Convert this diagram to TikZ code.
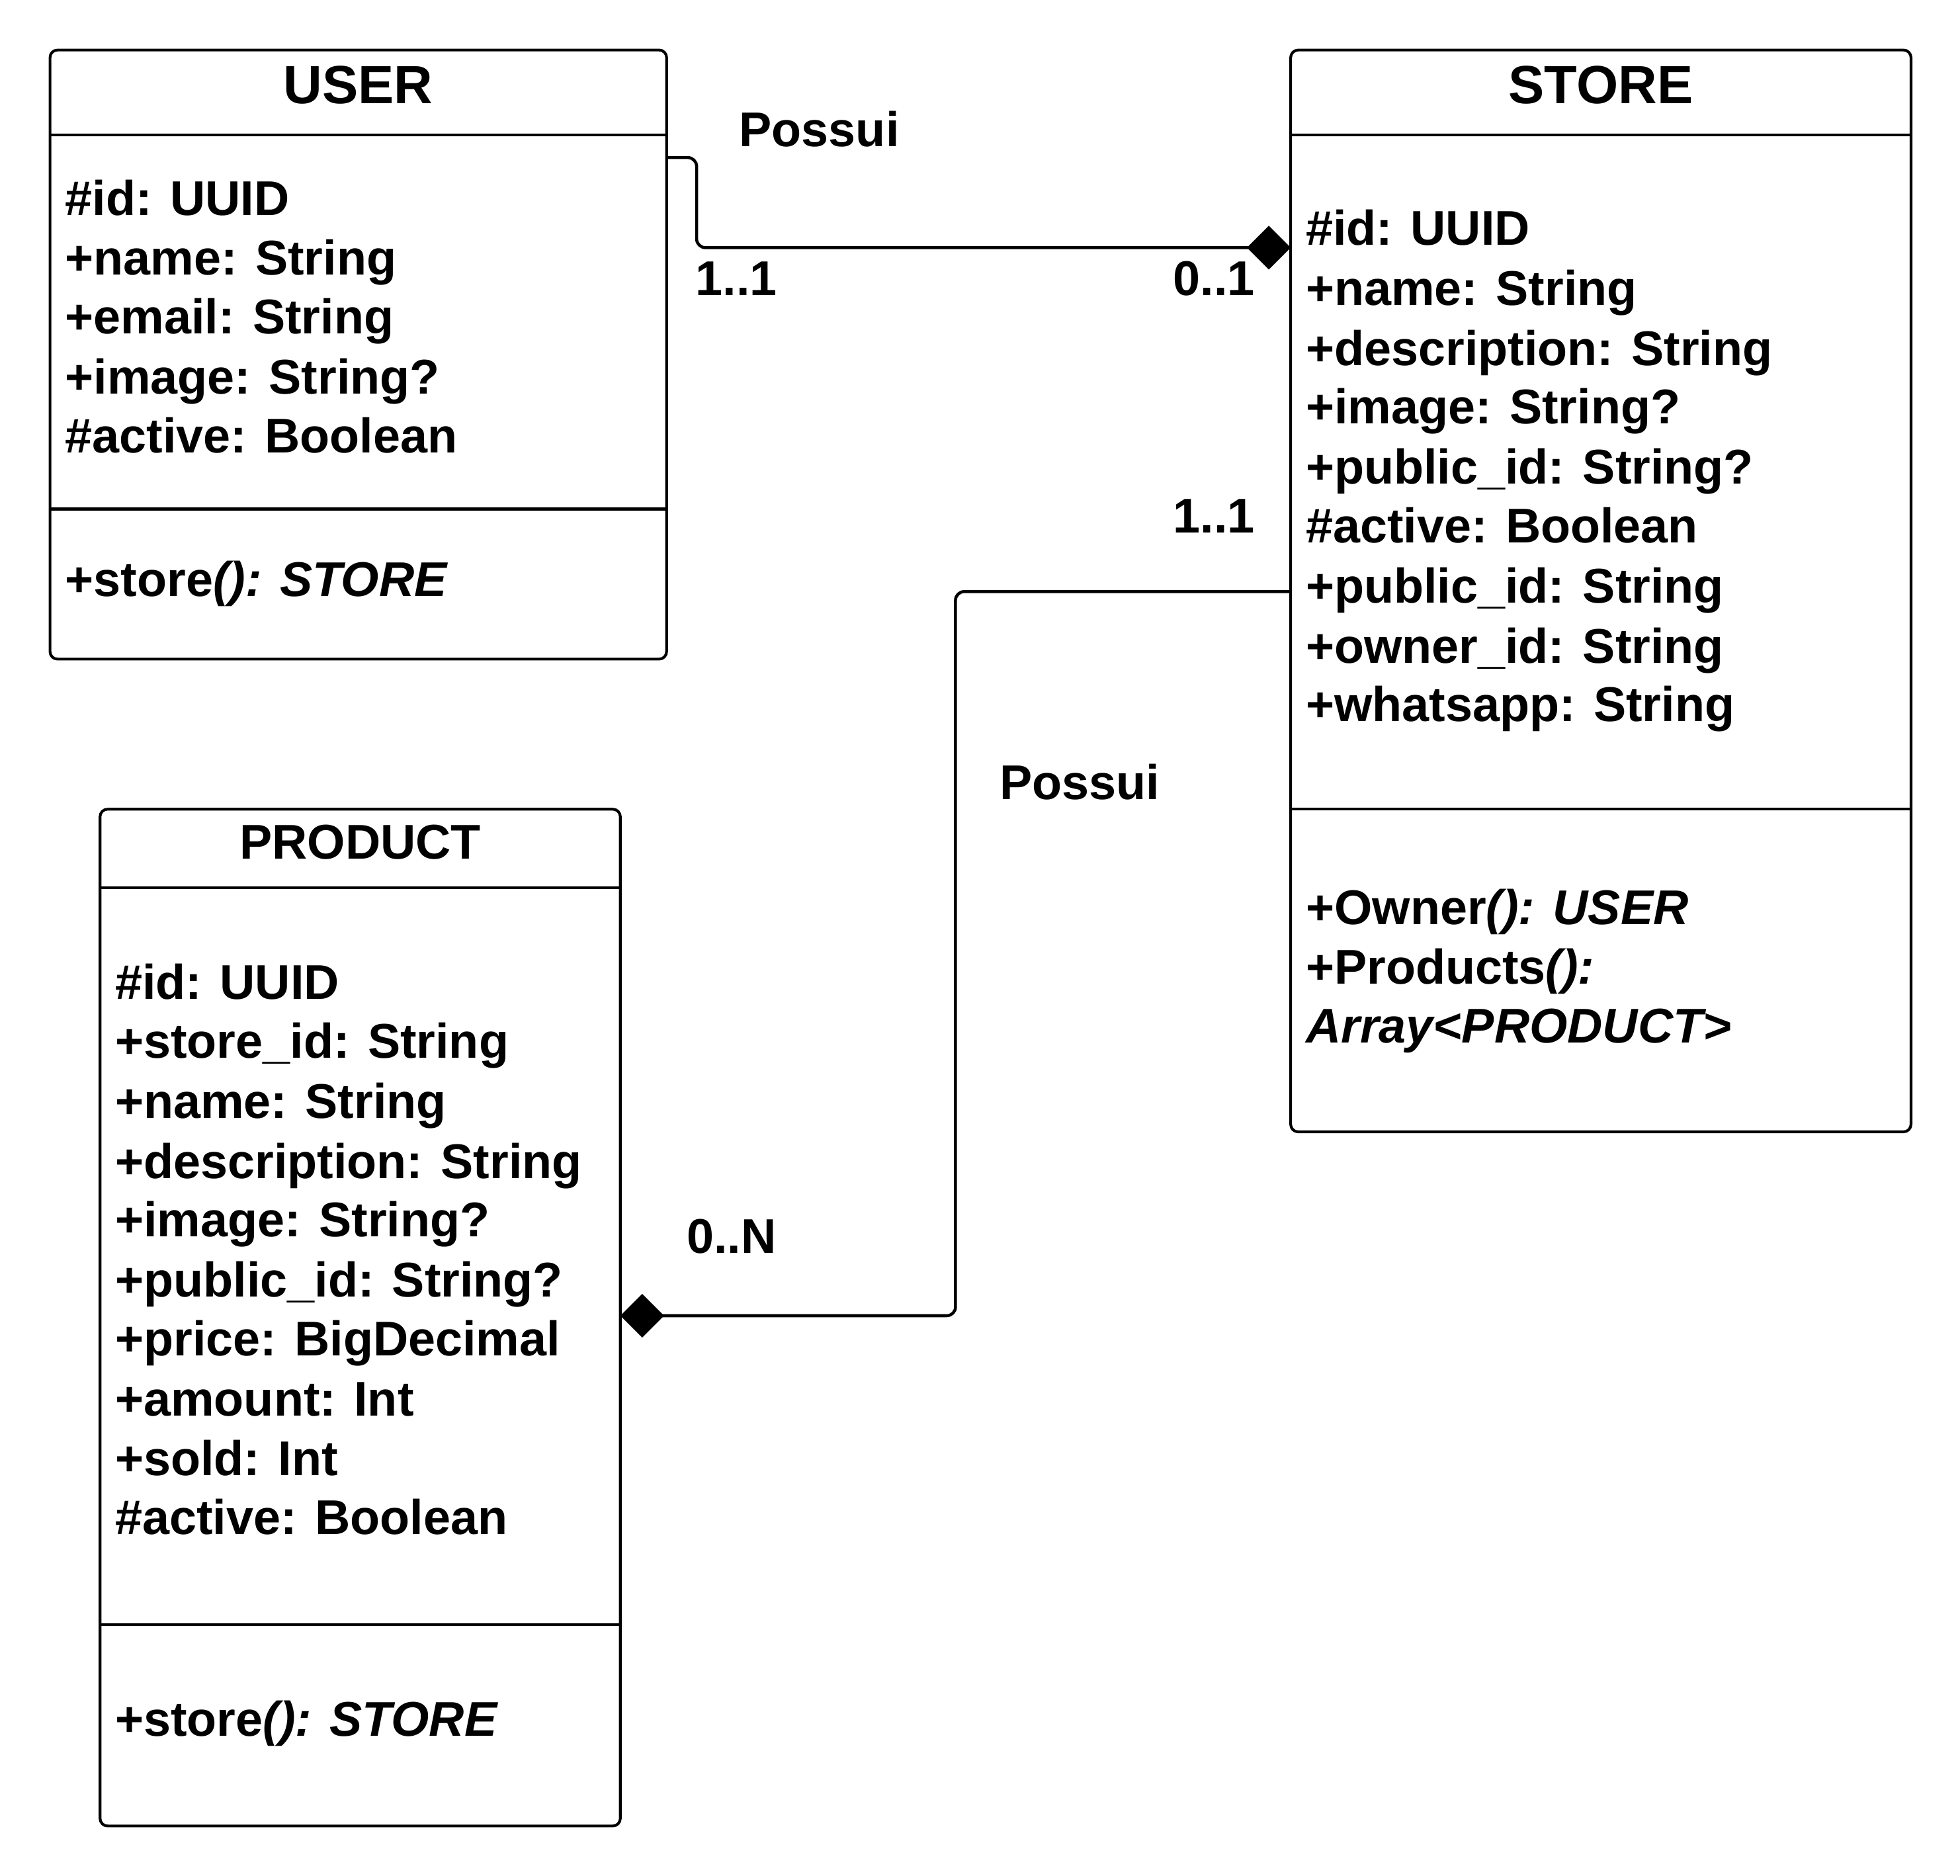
\documentclass[tikz,border=0pt]{standalone}
\usepackage{fontspec}
\setmainfont{Liberation Sans}
\usetikzlibrary{arrows.meta,calc}
\tikzset{
  classbox/.style={draw, line width=2.2pt, rounded corners=6pt, inner sep=0pt, outer sep=0pt, anchor=north west},
  sepline/.style={line width=2.2pt},
  attr/.style={anchor=base west, inner sep=0pt, font=\fontsize{39}{47}\selectfont\bfseries},
  title/.style={anchor=base, inner sep=0pt, font=\fontsize{43}{50}\selectfont\bfseries},
  lbl/.style={anchor=base west, inner sep=0pt, font=\fontsize{39}{47}\selectfont\bfseries},
  assoc/.style={line width=2.4pt, rounded corners=7pt, -{Diamond[length=35pt,width=35pt]}}
}
\begin{document}
\begin{tikzpicture}[x=1pt,y=-1pt]
\useasboundingbox (0,0) rectangle (1567.2,1499.5);
% USER
\node[classbox, minimum width=493pt, minimum height=487pt] (user) at (40,40) {};
\draw[sepline] (40,108) -- (533,108);
\draw[sepline] (40,407) -- (533,407);
\node[title] (usert) at (286.5,83) {USER};
\node[attr] (u1) at (52,172) {\#id: UUID};
\node[attr] (u2) at (52,220) {+name: String};
\node[attr] (u3) at (52,267) {+email: String};
\node[attr] (u4) at (52,315) {+image: String?};
\node[attr] (u5) at (52,362) {\#active: Boolean};
\node[attr] (um1) at (52,477) {+store\textit{(): STORE}};
% STORE
\node[classbox, minimum width=496pt, minimum height=865pt] (store) at (1032,40) {};
\draw[sepline] (1032,108) -- (1528,108);
\draw[sepline] (1032,647) -- (1528,647);
\node[title] (storet) at (1280,83) {STORE};
\node[attr] (s1) at (1044,196) {\#id: UUID};
\node[attr] (s2) at (1044,244) {+name: String};
\node[attr] (s3) at (1044,292) {+description: String};
\node[attr] (s4) at (1044,339) {+image: String?};
\node[attr] (s5) at (1044,387) {+public\_id: String?};
\node[attr] (s6) at (1044,434) {\#active: Boolean};
\node[attr] (s7) at (1044,482) {+public\_id: String};
\node[attr] (s8) at (1044,530) {+owner\_id: String};
\node[attr] (s9) at (1044,577) {+whatsapp: String};
\node[attr] (sm1) at (1044,739) {+Owner\textit{(): USER}};
\node[attr] (sm2) at (1044,787) {+Products\textit{():}};
\node[attr] (sm3) at (1044,834) {\textit{Array<PRODUCT>}};
% PRODUCT
\node[classbox, minimum width=416pt, minimum height=813pt] (product) at (80,647) {};
\draw[sepline] (80,710) -- (496,710);
\draw[sepline] (80,1299) -- (496,1299);
\node[title, font=\fontsize{39}{47}\selectfont\bfseries] (productt) at (288,687) {PRODUCT};
\node[attr] (p1) at (92,799) {\#id: UUID};
\node[attr] (p2) at (92,846) {+store\_id: String};
\node[attr] (p3) at (92,894) {+name: String};
\node[attr] (p4) at (92,942) {+description: String};
\node[attr] (p5) at (92,989) {+image: String?};
\node[attr] (p6) at (92,1037) {+public\_id: String?};
\node[attr] (p7) at (92,1084) {+price: BigDecimal};
\node[attr] (p8) at (92,1132) {+amount: Int};
\node[attr] (p9) at (92,1180) {+sold: Int};
\node[attr] (p10) at (92,1227) {\#active: Boolean};
\node[attr] (pm1) at (92,1388) {+store\textit{(): STORE}};
% connectors
\coordinate (j1) at (557,198);
\coordinate (j2) at (764,1052);
\draw[assoc] ([yshift=-86pt]user.north east) -| (j1) -- (j1 -| store.west);
\draw[assoc] ([yshift=-433pt]store.north west) -| (j2) -- (j2 -| product.east);
% labels
\node[lbl] (l1) at (591,117) {Possui};
\node[lbl] (l2) at (556,236) {1..1};
\node[lbl] (l3) at (938,236) {0..1};
\node[lbl] (l4) at (938,426) {1..1};
\node[lbl] (l5) at (799,639) {Possui};
\node[lbl] (l6) at (549,1002) {0..N};
\end{tikzpicture}
\end{document}
